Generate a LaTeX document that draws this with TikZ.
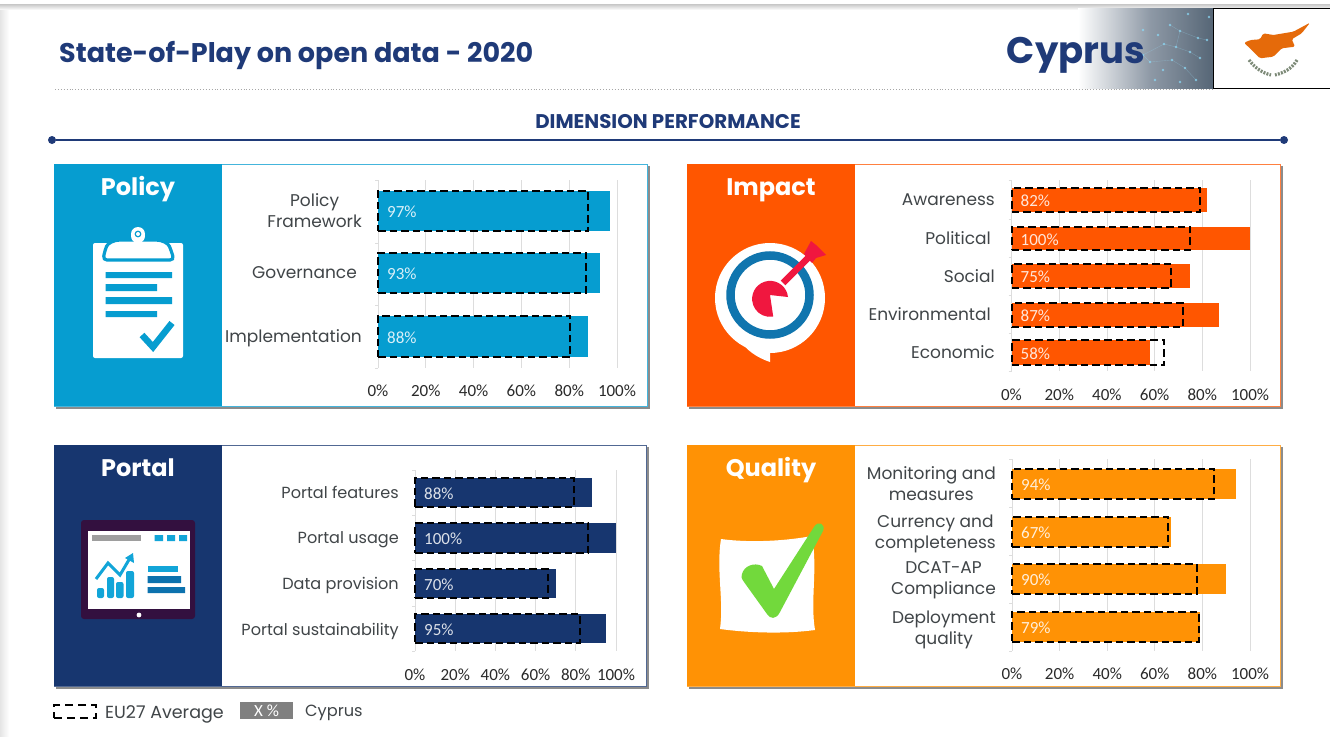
\documentclass[tikz,border=0pt]{standalone}
\usepackage{fontspec}
\setmainfont{Poppins}
\newfontfamily\numfont{Carlito}
\usetikzlibrary{calc}
\definecolor{cPolicy}{HTML}{069DD0}
\definecolor{cImpact}{HTML}{FF5600}
\definecolor{cPortal}{HTML}{17366F}
\definecolor{cQuality}{HTML}{FF9205}
\definecolor{cNavy}{HTML}{1F3A78}
\definecolor{cText}{HTML}{404548}
\definecolor{cTick}{HTML}{2A2A2A}
\definecolor{cGrid}{HTML}{DDDDDD}
\definecolor{cRing}{HTML}{1075AE}
\definecolor{cRed}{HTML}{F0173F}
\definecolor{cGreen}{HTML}{72D93C}
\definecolor{cTablet}{HTML}{33103F}
\definecolor{cSky}{HTML}{12A5D8}
\definecolor{cDeep}{HTML}{0C72AE}
\definecolor{cIsland}{HTML}{E56A0A}
\definecolor{cBandA}{HTML}{8E99A6}
\definecolor{cBandB}{HTML}{566676}
\definecolor{cLeaf}{HTML}{7D8A78}
\tikzset{
  x=1pt,y=-1pt,
  block/.style={draw=none,inner sep=0,outer sep=0,anchor=north west},
  barbox/.style={draw=none,inner sep=0,outer sep=0,anchor=west},
  avgbox/.style={draw=black,line width=2pt,dash pattern=on 7.5pt off 4pt,inner sep=0,outer sep=0,anchor=west},
  vallabel/.style={font=\numfont\fontsize{17}{18}\selectfont,anchor=west,inner sep=0},
  catlabel/.style={font=\fontsize{17}{21}\selectfont,text=cText,anchor=east,align=right,inner sep=0},
  portlabel/.style={catlabel,font=\fontsize{16.1}{21}\selectfont},
  ticklabel/.style={font=\numfont\fontsize{17}{18}\selectfont,text=cTick,inner sep=0},
  paneltitle/.style={font=\bfseries\fontsize{24}{26}\selectfont,text=white,inner sep=0,text height=22pt,text depth=5pt},
  gridline/.style={cGrid,line width=.8pt},
}
% name, x0, span, ytop, ybot, value, average, colour
\newcommand\chartrow[8]{%
  \pgfmathsetmacro\rowy{(#4+#5)/2}%
  \pgfmathsetmacro\rowh{#5-#4}%
  \pgfmathsetmacro\roww{#3/100*#6}%
  \pgfmathsetmacro\rowa{#3/100*#7}%
  \node[barbox,fill=#8,minimum width=\roww pt,minimum height=\rowh pt] (#1) at (#2,\rowy) {};
  \node[avgbox,minimum width=\rowa pt,minimum height=\rowh pt] (#1avg) at (#2,\rowy) {};
  \node[vallabel,text=white!85!#8] (#1val) at ($(#2,\rowy)+(9,1)$) {#6\%};
}
% prefix, x0, span, ytop, ybot, label y, list of y of ticks
\newcommand\chartaxes[7]{%
  \foreach \p in {0,20,40,60,80,100}{%
    \pgfmathsetmacro\gx{#2+#3/100*\p}%
    \ifnum\p>0 \draw[gridline] (\gx,#4) -- (\gx,#5);\fi
    \node[ticklabel] (#1t\p) at (\gx,#6) {\p\%};
  }%
  \draw[gridline] (#2,#4) -- (#2,#5);
  \foreach \ty in {#7}{\draw[gridline] (#2-3,\ty) -- (#2,\ty);}
}
% name, x, y, w, h, block colour, title
\newcommand\panel[7]{%
  \fill[black!45] (#2+2,#3+2) rectangle (#2+#4+2.5,#3+#5+2.5);
  \node[block,fill=white,draw=#6!75!white,line width=.9pt,minimum width=#4pt,minimum height=#5pt] (#1) at (#2,#3) {};
  \node[block,fill=#6,minimum width=168pt,minimum height=#5pt] (#1side) at (#2,#3) {};
  \node[paneltitle] (#1title) at (#2+84,#3+23) {#7};
}
\begin{document}
\begin{tikzpicture}
\useasboundingbox (0,0) rectangle (1330,736);
\fill[white] (0,0) rectangle (1330,736);
% page edges
\shade[top color=black!22,bottom color=white] (0,4) rectangle (1330,10);
\shade[left color=black!10,right color=white] (0,10) rectangle (9,736);
% header
\node[anchor=west,inner sep=0,font=\bfseries\fontsize{27}{29}\selectfont,text=cNavy] (title) at (59,56) {State-of-Play on open data - 2020};
\draw[black!35,line width=.9pt,dotted] (55,89) -- (1213,89);
\shade[left color=white,right color=cBandA] (1078,8) rectangle (1150,88);
\shade[left color=cBandA,right color=cBandB] (1150,8) rectangle (1213,88);
\foreach \dx/\dy in {1188/14,1209/17,1170/25,1180/31,1198/38,1207/40,1164/44,1176/47,1190/52,1143/55,1150/62,1163/70,1185/68,1200/58,1143/30,1158/35,1172/60,1196/80,1180/82,1155/80}{%
  \fill[cyan!45!white,opacity=.75] (\dx,\dy) circle (1.3);
}
\draw[cyan!40!white,opacity=.3,line width=.4pt] (1170,25)--(1180,31)--(1198,38)--(1207,40) (1180,31)--(1176,47)--(1190,52)--(1200,58) (1176,47)--(1164,44)--(1143,55)--(1150,62)--(1172,60)--(1185,68)--(1196,80);
\node[anchor=center,inner sep=0,font=\bfseries\fontsize{37}{39}\selectfont,text=cNavy] (country) at (1076,55) {Cyprus};
\node[block,draw=black,line width=1pt,fill=white,minimum width=120pt,minimum height=80pt] (flag) at (1213,8) {};
\fill[cIsland,rounded corners=1.5pt] (1244,42.7) -- (1250.7,40) -- (1260,39.3) -- (1263.3,33.3) -- (1273.3,35) -- (1293.3,31.7) -- (1310,22.7) -- (1301.7,33.3) -- (1291.7,39.3) -- (1295,46.7) -- (1281.7,48.3) -- (1273.3,56.7) -- (1260,58.3) -- (1251.7,50) -- cycle;
\draw[cLeaf,line width=3.2pt,dash pattern=on 2pt off 1.2pt] (1249,60) .. controls (1256,69) and (1263,73) .. (1271,75);
\draw[cLeaf,line width=3.2pt,dash pattern=on 2pt off 1.2pt] (1297,60) .. controls (1292,69) and (1283,73) .. (1275,75);
% section heading
\node[inner sep=0,font=\bfseries\fontsize{19.8}{21}\selectfont,text=cNavy] (heading) at (668,122) {DIMENSION PERFORMANCE};
\node[circle,fill=cNavy,inner sep=0,minimum size=8pt] (rulel) at (52,140) {};
\node[circle,fill=cNavy,inner sep=0,minimum size=8pt] (ruler) at (1284,140) {};
\draw[cNavy,line width=1.1pt] (rulel) -- (ruler);

% ---------- POLICY
\panel{policy}{54}{164}{593}{242}{cPolicy}{Policy}
\chartaxes{pol}{378}{239}{180}{368}{391}{180,243,305,368}
\chartrow{pola}{378}{239}{191}{231}{97}{88}{cPolicy}
\chartrow{polb}{378}{239}{253}{293}{93}{87}{cPolicy}
\chartrow{polc}{378}{239}{316}{357}{88}{80.5}{cPolicy}
\node[catlabel,align=center,anchor=east] (polal) at (362,211) {Policy\\Framework};
\node[catlabel] (polbl) at (357,273) {Governance};
\node[catlabel] (polcl) at (362,338) {Implementation};
% clipboard
\fill[white,rounded corners=2pt] (93,243) rectangle (183,358);
\fill[white] (138,234) circle (7);
\filldraw[draw=cPolicy,fill=white,line width=3.2pt,rounded corners=4pt] (103,260) -- (105,250) .. controls (108,243) and (114,240) .. (124,240) -- (152,240) .. controls (162,240) and (168,243) .. (171,250) -- (174,260) -- cycle;
\fill[white] (138,236) circle (7);
\fill[cPolicy] (138,234) circle (3.4);
\fill[white] (138,234) circle (2);
\fill[cPolicy] (105.5,272) rectangle (172,278) (105.5,284) rectangle (157,291) (105.5,297) rectangle (172,304) (105.5,311) rectangle (157,317);
\draw[cPolicy,line width=6.5pt,line join=miter] (142,335) -- (153,347) -- (172,323);

% ---------- IMPACT
\panel{impact}{687}{164}{593}{242}{cImpact}{Impact}
\chartaxes{imp}{1011.5}{238.5}{180}{371}{395}{180,219,257,295,333,371}
\chartrow{impa}{1011.5}{238.5}{188}{212}{82}{79}{cImpact}
\chartrow{impb}{1011.5}{238.5}{227}{250}{100}{75}{cImpact}
\chartrow{impc}{1011.5}{238.5}{264}{288}{75}{67}{cImpact}
\chartrow{impd}{1011.5}{238.5}{303}{327}{87}{72}{cImpact}
\chartrow{impe}{1011.5}{238.5}{340}{365}{58}{64}{cImpact}
\node[catlabel] (impal) at (995,200) {Awareness};
\node[catlabel] (impbl) at (991,238) {Political};
\node[catlabel] (impcl) at (995,276) {Social};
\node[catlabel] (impdl) at (991,314) {Environmental};
\node[catlabel] (impel) at (995,352) {Economic};
% target
\fill[white] (770,298) circle (55);
\fill[white] (741,340) .. controls (745,350) and (758,358) .. (770,362) -- (770,345) -- cycle;
\draw[cRing,line width=8.5pt] (770,295) circle (39.5);
\fill[cRed] (770,295) -- (788,297) arc[start angle=-6,end angle=-280,radius=18] -- cycle;
\draw[cRed,line width=6.5pt] (783,283) -- (814,252);
\fill[cRed] (811,241) -- (816,245) -- (826,255) -- (816,258) -- (812,263) -- (804,254) -- cycle;

% ---------- PORTAL
\panel{portal}{54}{445}{592}{241}{cPortal}{Portal}
\chartaxes{por}{415}{201}{470}{651}{675}{470,515,560,606,651}
\chartrow{pora}{415}{201}{478}{507}{88}{79}{cPortal}
\chartrow{porb}{415}{201}{523}{553}{100}{86}{cPortal}
\chartrow{porc}{415}{201}{569}{598}{70}{66}{cPortal}
\chartrow{pord}{415}{201}{614}{643}{95}{82}{cPortal}
\node[portlabel] (poral) at (399,492) {Portal features};
\node[portlabel] (porbl) at (399,540) {Portal usage};
\node[portlabel] (porcl) at (399,585) {Data provision};
\node[portlabel] (pordl) at (399,631) {Portal sustainability};
% tablet
\fill[cTablet,rounded corners=3pt] (81,520) rectangle (195,619);
\fill[white] (87.5,531) rectangle (190,609);
\fill[white] (139,615) circle (2.4);
\fill[black!38] (92,535) rectangle (141,541);
\fill[cSky] (154.5,535) rectangle (163,541) (167,535) rectangle (175,541) (179,535) rectangle (187,541);
\fill[cSky,rounded corners=2pt] (97,588) rectangle (104,598) (107,577) rectangle (114,598) (116,582) rectangle (123.5,598) (126,571) rectangle (134,598);
\draw[cSky,line width=3pt] (96,579) -- (108,563) -- (120,575) -- (130,558);
\fill[cSky] (133,553) -- (125,558) -- (134,563) -- cycle;
\fill[cSky] (147.6,566) rectangle (177.5,572);
\fill[cDeep] (147.6,576) rectangle (181,583) (147.6,587) rectangle (185,593);

% ---------- QUALITY
\panel{quality}{687}{445}{593}{241}{cQuality}{Quality}
\chartaxes{qua}{1012}{238}{459}{651}{674}{459,507,555,603,651}
\chartrow{quaa}{1012}{238}{469}{499}{94}{85}{cQuality}
\chartrow{quab}{1012}{238}{517}{547}{67}{65.6}{cQuality}
\chartrow{quac}{1012}{238}{564}{594}{90}{77.6}{cQuality}
\chartrow{quad}{1012}{238}{612}{642}{79}{78.5}{cQuality}
\node[catlabel,align=center] (quaal) at (996,484) {Monitoring and\\measures};
\node[catlabel,align=center] (quabl) at (996,534) {Currency and\\completeness};
\node[catlabel,align=center] (quacl) at (996,580.5) {DCAT-AP\\Compliance};
\node[catlabel,align=center] (quadl) at (996,630) {Deployment\\quality};
% sheet + check
\fill[white] (721,539) .. controls (750,543) and (785,541) .. (812,536) .. controls (818,570) and (810,600) .. (815,630) .. controls (785,634) and (750,633) .. (720,629) .. controls (724,600) and (716,570) .. (721,539) -- cycle;
\fill[cGreen] (742,574) .. controls (744,566) and (754,562) .. (762,566) -- (774,589) -- (814,527) .. controls (818,520) and (826,524) .. (823,531) -- (780,612) .. controls (776,620) and (770,619) .. (767,614) -- (744,582) .. controls (741,578) and (741,576) .. (742,574) -- cycle;

% ---------- LEGEND
\node[block,draw=black,line width=1.4pt,dash pattern=on 8pt off 5pt,minimum width=42pt,minimum height=13pt] (legavg) at (54,705) {};
\node[anchor=west,inner sep=0,font=\fontsize{17.5}{19}\selectfont,text=cText] (legavgt) at (105,714) {EU27 Average};
\node[block,fill=black!50,minimum width=53pt,minimum height=17pt,font=\numfont\fontsize{17}{18}\selectfont,text=white] (legcy) at (240,702) {X \%};
\node[anchor=west,inner sep=0,font=\fontsize{16.2}{18}\selectfont,text=cText] (legcyt) at (305,713) {Cyprus};
\end{tikzpicture}
\end{document}
